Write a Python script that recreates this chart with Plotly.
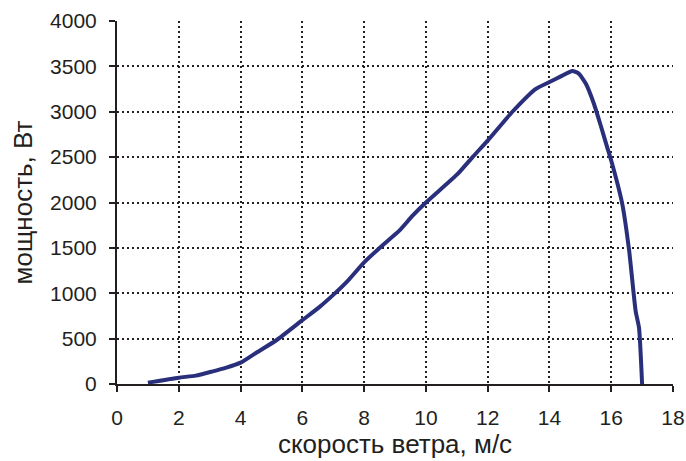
import plotly.graph_objects as go

# Wind speed (m/s) and generated power (W)
wind_speed = [1.0, 2.0, 2.55, 3.07, 3.54, 4.0, 4.51, 5.16, 6.0, 6.56, 7.0, 7.47,
              8.0, 8.6, 9.14, 9.57, 10.0, 11.03, 11.51, 12.0, 12.8, 13.56, 14.0,
              14.4, 14.74, 14.95, 15.18, 15.44, 15.66, 15.87, 16.0, 16.36, 16.58,
              16.79, 16.9, 17.0]
power = [15, 70, 92, 136, 180, 235, 345, 482, 703, 850, 982, 1137,
         1340, 1530, 1690, 1855, 2000, 2315, 2500, 2682, 3000, 3253, 3327,
         3395, 3450, 3420, 3308, 3088, 2848, 2608, 2462, 1980, 1470,
         805, 620, 0]

x_ticks = [0, 2, 4, 6, 8, 10, 12, 14, 16, 18]
y_ticks = [0, 500, 1000, 1500, 2000, 2500, 3000, 3500, 4000]

fig = go.Figure(
    go.Scatter(
        x=wind_speed, y=power, mode="lines",
        line=dict(color="#2a2f7c", width=4, shape="spline", smoothing=0.5),
        hoverinfo="skip",
    )
)

axis_font = dict(family="Liberation Sans, Arial, sans-serif", size=21, color="#231f20")
title_font = dict(family="Liberation Sans, Arial, sans-serif", size=26, color="#231f20")

fig.update_layout(
    width=686, height=461,
    margin=dict(l=117, r=13, t=21, b=77),
    paper_bgcolor="white", plot_bgcolor="white",
    showlegend=False,
    xaxis=dict(
        range=[0, 18], tickvals=x_ticks, ticktext=[str(v) for v in x_ticks],
        automargin=False,
        showline=True, linecolor="#231f20", linewidth=2,
        ticks="outside", ticklen=6, tickwidth=1.5, tickcolor="#231f20",
        ticklabelstandoff=8,
        showgrid=True, gridcolor="#231f20", gridwidth=1.5, griddash="2px,3px",
        zeroline=False, tickfont=axis_font,
        title=dict(text="скорость ветра, м/с", font=title_font, standoff=4),
    ),
    yaxis=dict(
        range=[0, 4000], tickvals=y_ticks, ticktext=[str(v) for v in y_ticks],
        automargin=False,
        showline=True, linecolor="#231f20", linewidth=2,
        ticks="outside", ticklen=6, tickwidth=1.5, tickcolor="#231f20",
        ticklabelstandoff=8,
        showgrid=True, gridcolor="#231f20", gridwidth=1.5, griddash="2px,3px",
        zeroline=False, tickfont=axis_font,
        title=dict(text="мощность, Вт", font=title_font, standoff=10),
    ),
)

fig.write_html("out.html")
